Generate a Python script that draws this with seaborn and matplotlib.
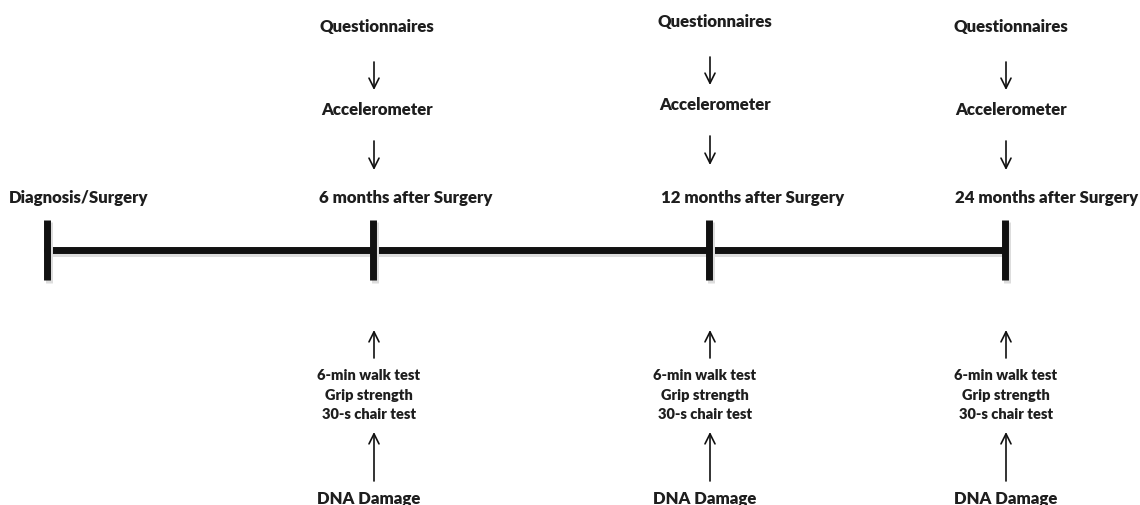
import seaborn as sns
import pandas as pd
import matplotlib.pyplot as plt

# timeline stages (x in pixel units of the 1140x505 canvas)
stages = ["Diagnosis/Surgery", "6 months after Surgery",
          "12 months after Surgery", "24 months after Surgery"]
stage_x = [47, 373, 709, 1005]
label_x = [79, 406, 753, 1047]

# follow-up columns (the three post-surgery visits)
visit_x = [374, 710, 1006]
text_x = [377, 715, 1011]
bottom_x = [369, 705, 1006]
top_shift = [0, -5, 0]  # 12-month column sits slightly higher

top_labels = ["Questionnaires", "Accelerometer"]
test_lines = "6-min walk test\nGrip strength\n30-s chair test"
bottom_label = "DNA Damage"

sns.set_theme(style="white")
plt.rcParams["font.family"] = ["Lato", "DejaVu Sans"]

fig = plt.figure(figsize=(11.4, 5.05), dpi=100)
ax = fig.add_axes([0, 0, 1, 1])
ax.set_xlim(0, 1140)
ax.set_ylim(505, 0)
ax.axis("off")

txt = dict(ha="center", va="center", fontweight="heavy", color="#1e1e1e")

line_y = 250
df = pd.DataFrame({"x": [stage_x[0], stage_x[-1]], "y": [line_y, line_y]})

# soft shadow then main line
sns.lineplot(data=df.assign(x=df.x + 2, y=df.y + 3), x="x", y="y",
             color="#dddddd", linewidth=5, ax=ax)
sns.lineplot(data=df, x="x", y="y", color="#111111", linewidth=5, ax=ax)

for x, lab, lx in zip(stage_x, stages, label_x):
    ax.plot([x + 2, x + 2], [222, 283], color="#dddddd", lw=5,
            solid_capstyle="butt")
    ax.plot([x, x], [220, 280], color="#111111", lw=5, solid_capstyle="butt")
    ax.text(lx, 198, lab, fontsize=12.1, **txt)

arrow = dict(arrowstyle="->", lw=1.2, color="#111111",
             mutation_scale=18, shrinkA=0, shrinkB=0)

for vx, tx, bx, dy in zip(visit_x, text_x, bottom_x, top_shift):
    ax.text(tx, 27 + dy, top_labels[0], fontsize=12.1, **txt)
    ax.annotate("", xy=(vx, 90 + dy), xytext=(vx, 62 + dy), arrowprops=arrow)
    ax.text(tx, 110 + dy, top_labels[1], fontsize=12.1, **txt)
    ax.annotate("", xy=(vx, 170 + dy), xytext=(vx, 141 + dy), arrowprops=arrow)

    ax.annotate("", xy=(vx, 330), xytext=(vx, 358), arrowprops=arrow)
    ax.text(bx, 395, test_lines, fontsize=10.5, linespacing=1.6, **txt)
    ax.annotate("", xy=(vx, 432), xytext=(vx, 481), arrowprops=arrow)
    ax.text(bx, 499, bottom_label, fontsize=12.1, **txt)

plt.savefig("out.png", dpi=100)
